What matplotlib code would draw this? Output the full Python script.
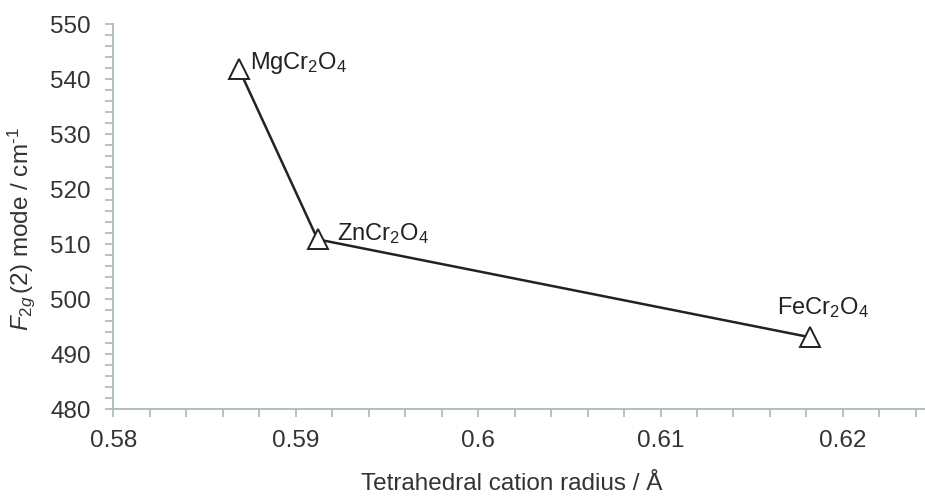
import matplotlib.pyplot as plt
from matplotlib.ticker import MultipleLocator

plt.rcParams['font.family'] = ['Liberation Sans', 'DejaVu Sans']
plt.rcParams['mathtext.fontset'] = 'custom'
plt.rcParams['mathtext.rm'] = 'Liberation Sans'
plt.rcParams['mathtext.it'] = 'Liberation Sans:italic'

# data
radius = [0.5869, 0.5912, 0.6182]
f2g_mode = [541.8, 510.9, 493.1]
names = ['MgCr$_2$O$_4$', 'ZnCr$_2$O$_4$', 'FeCr$_2$O$_4$']
label_pos = [(0.5875, 541.9), (0.59227, 510.8), (0.6164, 497.3)]

axis_col = '#a9bbb7'
text_col = '#333333'

fig = plt.figure(figsize=(9.25, 4.96), dpi=100)
ax = fig.add_axes([0.1225, 0.1748, 0.8775, 0.7762])

ax.plot(radius, f2g_mode, color='#222222', lw=1.8, marker='^', ms=15,
        mfc='white', mec='#222222', mew=1.4, zorder=3)

for name, (tx, ty) in zip(names, label_pos):
    ax.text(tx, ty, name, fontsize=17, color='#222222', ha='left', va='baseline')

ax.set_xlim(0.58, 0.6245)
ax.set_ylim(480, 550)
ax.xaxis.set_major_locator(MultipleLocator(0.01))
ax.xaxis.set_minor_locator(MultipleLocator(0.002))
ax.yaxis.set_major_locator(MultipleLocator(10))
ax.yaxis.set_minor_locator(MultipleLocator(2))
ax.xaxis.set_major_formatter(plt.FuncFormatter(lambda v, p: ('%.2f' % v).rstrip('0')))

for s in ['top', 'right']:
    ax.spines[s].set_visible(False)
for s in ['left', 'bottom']:
    ax.spines[s].set_color(axis_col)
    ax.spines[s].set_linewidth(1.3)

ax.tick_params(which='both', color=axis_col, width=1.2, length=6, direction='out')
ax.tick_params(which='major', labelsize=17.5, labelcolor=text_col)
ax.tick_params(axis='x', which='major', pad=9)
ax.tick_params(axis='y', which='major', pad=10)

ax.set_xlabel('Tetrahedral cation radius / Å', fontsize=17.5, color=text_col)
ax.set_ylabel('$\\mathit{F}_{\\mathit{2g}}\\,$(2) mode / cm$^{\\text{-1}}$',
              fontsize=17.5, color=text_col)
ax.xaxis.set_label_coords(0.491, -0.165)
ax.yaxis.set_label_coords(-0.094, 0.468)

fig.savefig('out.png', dpi=100)
